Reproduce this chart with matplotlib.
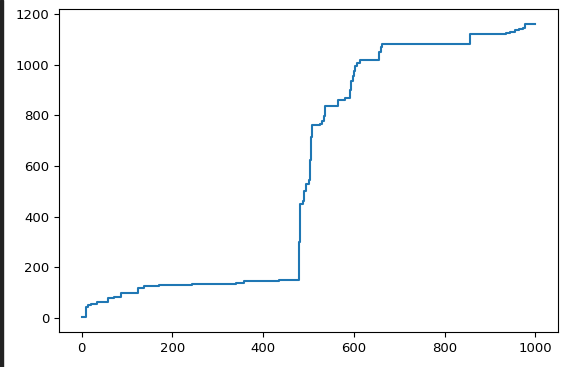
import matplotlib
matplotlib.use('Agg')
import matplotlib.pyplot as plt
from matplotlib.patches import Rectangle

# change points of the cumulative curve (value holds until next x)
steps_x = [0, 10, 14, 20, 34, 46, 57, 72, 86, 124, 138, 171, 244, 340, 358, 434,
           478, 480, 482, 487, 490, 494, 500, 503, 505, 508, 525, 530, 535, 537,
           566, 581, 592, 594, 598, 601, 603, 606, 613, 656, 659, 663,
           855, 935, 945, 955, 965, 972, 978, 1000]
steps_y = [3, 46, 52, 57, 63, 65, 80, 85, 100, 120, 125, 130, 136, 140, 145, 149,
           152, 300, 451, 464, 503, 530, 543, 622, 713, 760, 765, 779, 799, 835,
           861, 869, 900, 937, 955, 975, 996, 1005, 1018, 1050, 1070, 1081,
           1122, 1125, 1130, 1135, 1140, 1145, 1162, 1162]

plt.rcParams['font.size'] = 9.5

fig = plt.figure(figsize=(5.63, 3.67), dpi=100)
ax = fig.add_axes([0.105, 0.095, 0.886, 0.881])
ax.plot(steps_x, steps_y, drawstyle='steps-post', color='#1f77b4', linewidth=1.5)
ax.set_xticks([0, 200, 400, 600, 800, 1000])
ax.set_yticks([0, 200, 400, 600, 800, 1000, 1200])

# dark border on the left edge of the screenshot
fig.patches.append(Rectangle((0, 0), 2.5 / 563, 1, transform=fig.transFigure,
                             color='#222222', zorder=10))

fig.savefig('out.png', dpi=100)
